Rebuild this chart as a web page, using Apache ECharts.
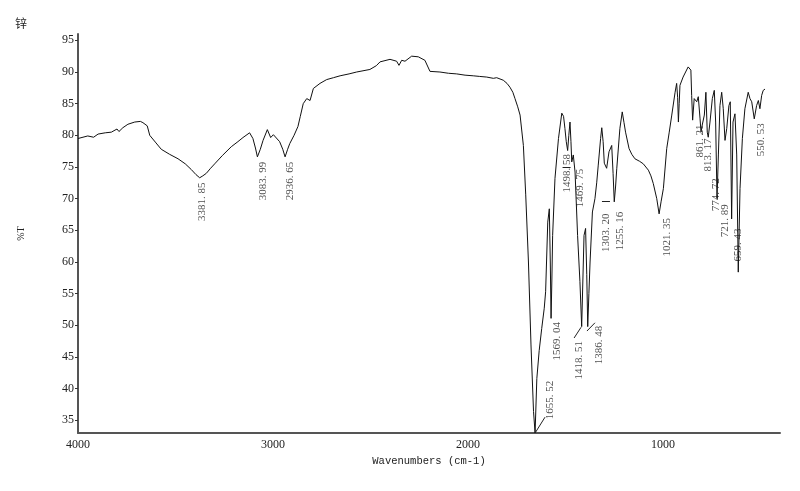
<!DOCTYPE html>
<html>
<head>
<meta charset="utf-8">
<script src="https://cdn.jsdelivr.net/npm/echarts@6/dist/echarts.min.js"></script>
<style>
html,body{margin:0;padding:0;background:#fff;}
#chart{width:800px;height:491px;}
</style>
</head>
<body>
<div id="chart"></div>
<script>
// Spectrum (wavenumber, %T)
var wavenumbers = [4000,3950,3920,3897,3860,3829,3800,3790,3770,3744,3709,3680,3667,3645,3632,3600,3573,3530,3487,3450,3419,3395,3376,3360,3342,3320,3299,3260,3214,3180,3154,3120,3103,3090,3080,3065,3051,3029,3012,2998,2991,2966,2950,2938,2925,2914,2892,2872,2860,2845,2827,2810,2793,2759,2725,2690,2656,2610,2571,2503,2470,2451,2400,2366,2354,2340,2323,2289,2255,2221,2195,2144,2100,2058,2015,1973,1940,1904,1870,1853,1819,1800,1785,1770,1759,1745,1733,1716,1704,1690,1677,1664,1656,1647,1635,1622,1609,1602,1591,1583,1578,1574,1570,1566,1554,1536,1519,1510,1503,1496,1489,1483,1477,1472,1468,1460,1451,1438,1426,1417,1411,1405,1397,1391,1386,1380,1374,1362,1349,1340,1332,1320,1314,1307,1301,1289,1277,1263,1256,1250,1243,1237,1221,1209,1200,1192,1185,1174,1160,1144,1120,1101,1075,1062,1050,1032,1020,1010,998,981,968,955,938,930,925,921,917,913,897,871,862,857,853,848,840,827,819,810,805,799,788,780,773,768,759,747,737,730,723,716,708,699,691,682,673,662,655,648,641,631,622,614,605,593,580,563,554,545,532,520,511,503,494,486,477];
var transmittance = [79.5,79.9,79.7,80.2,80.4,80.5,81.0,80.6,81.2,81.75,82.1,82.2,82.0,81.5,80.0,78.8,77.8,77.0,76.3,75.5,74.6,73.8,73.3,73.6,74.0,74.8,75.5,76.8,78.2,79.0,79.65,80.4,79.5,78.0,76.6,77.8,79.2,80.9,79.65,80.1,80.0,79.0,77.8,76.6,77.8,78.7,80.0,81.4,83.0,85.0,85.8,85.5,87.4,88.2,88.8,89.1,89.4,89.7,90.0,90.4,91.0,91.6,92.0,91.7,91.05,91.85,91.7,92.5,92.4,91.85,90.1,90.0,89.8,89.7,89.5,89.4,89.3,89.2,89.0,89.1,88.7,88.2,87.6,86.8,85.8,84.5,83.2,78.4,70.6,60.0,46.9,36.4,33.0,41.6,46.0,49.5,52.7,55.3,66.3,68.4,60.0,51.1,57.0,64.2,73.2,79.5,83.5,83.0,81.1,79.0,77.6,80.0,82.1,79.0,75.8,76.9,74.2,64.2,56.9,49.8,57.0,64.2,65.3,58.0,49.8,55.0,60.0,67.9,70.0,72.5,75.3,79.5,81.2,79.0,75.6,74.8,77.4,78.4,74.0,69.5,72.0,74.8,81.1,83.7,82.0,80.5,80.8,77.9,77.0,76.3,75.9,75.5,74.5,73.6,72.4,70.0,67.6,69.5,71.6,77.9,80.5,83.2,86.8,88.2,86.0,82.1,85.0,87.9,89.2,90.8,91.1,90.3,86.3,82.4,85.8,85.3,86.1,82.6,80.5,81.6,83.2,86.8,80.5,79.7,82.1,85.8,87.1,82.1,70.0,76.9,84.7,86.8,84.2,79.2,81.1,84.7,85.3,66.8,82.1,83.4,76.9,58.4,71.6,79.5,84.2,86.8,85.8,85.3,82.6,84.7,85.5,84.2,86.3,87.1,87.3];

// Peak annotations: text, label centre (wavenumber, %T)
var peakLabels = ["3381. 85","3083. 99","2936. 65","1655. 52","1569. 04","1498. 58","1469. 75","1418. 51","1386. 48","1303. 20","1255. 16","1021. 35","861. 21","813. 17","774. 72","721. 89","659. 43","550. 53"];
var peakLabelX = [3361,3051,2913,1580,1544,1492,1426,1431,1328,1292,1220,979,810,769,728,682,615,497];
var peakLabelY = [69.5,72.8,72.8,38.2,47.5,74.0,71.7,44.5,46.9,64.6,64.9,63.9,79.1,76.9,70.6,66.5,62.7,79.3];

// Leader lines: [x1, y1, x2, y2]
var leaderLines = [[1656,33.0,1605,35.5],[1420,49.7,1456,48.0],[1390,49.1,1349,50.4],[1515,74.9,1474,74.9],[1313,69.6,1272,69.6]];

// Axis ticks
var xTicks = [1000,2000,3000,4000];
var yTicks = [35,40,45,50,55,60,65,70,75,80,85,90,95];

var spectrum = wavenumbers.map(function(w,i){return [w, transmittance[i]];});
var labelData = peakLabels.map(function(t,i){return {name:t, value:[peakLabelX[i], peakLabelY[i]]};});
var leaderData = leaderLines.map(function(l){return [{coord:[l[0],l[1]]},{coord:[l[2],l[3]]}];});

var chart = echarts.init(document.getElementById('chart'), null, {renderer:'canvas'});
chart.setOption({
  animation:false,
  backgroundColor:'#ffffff',
  title:{text:'锌', left:10, top:12, textStyle:{fontFamily:'Noto Sans CJK SC', fontSize:12, fontWeight:'normal', color:'#222'}},
  grid:{left:78, right:20, top:34, bottom:58},
  xAxis:{
    type:'value', inverse:true, min:400, max:4000,
    name:'Wavenumbers (cm-1)', nameLocation:'middle', nameGap:17,
    nameTextStyle:{fontFamily:'Liberation Mono', fontSize:10.5, color:'#222'},
    axisLine:{show:true, lineStyle:{color:'#555', width:2}},
    axisTick:{show:false},
    splitLine:{show:false},
    axisLabel:{customValues:xTicks, margin:6, fontFamily:'Liberation Serif', fontSize:12, color:'#222',
      formatter:function(v){return String(v);}}
  },
  yAxis:{
    type:'value', min:33, max:96,
    name:'%T', nameLocation:'middle', nameRotate:90, nameGap:52,
    nameTextStyle:{fontFamily:'Liberation Serif', fontSize:10, color:'#222'},
    axisLine:{show:true, lineStyle:{color:'#555', width:2}},
    axisTick:{show:true, customValues:yTicks, length:3, lineStyle:{color:'#333'}},
    splitLine:{show:false},
    axisLabel:{customValues:yTicks, margin:4, fontFamily:'Liberation Serif', fontSize:12, color:'#222',
      formatter:function(v){return String(v);}}
  },
  series:[
    {type:'line', data:spectrum, showSymbol:false, symbol:'none', lineStyle:{color:'#111', width:1}, silent:true},
    {type:'scatter', data:labelData, symbol:'circle', symbolSize:0, silent:true,
      label:{show:true, position:'inside', rotate:90, align:'center', verticalAlign:'middle',
        formatter:function(p){return p.name;}, fontFamily:'Liberation Serif', fontSize:11, color:'#222'},
      markLine:{silent:true, symbol:'none', label:{show:false}, lineStyle:{color:'#222', width:1, type:'solid'}, data:leaderData}
    }
  ]
});
</script>
</body>
</html>
